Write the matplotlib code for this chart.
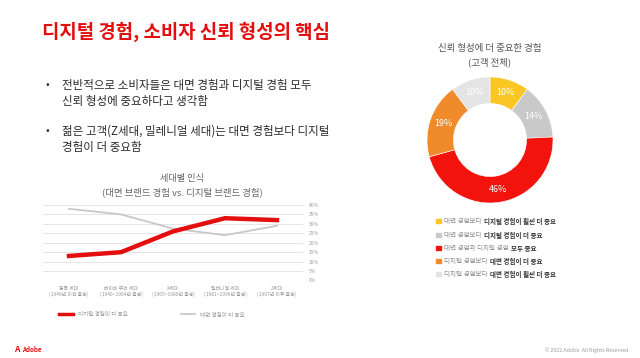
import matplotlib
matplotlib.use("Agg")
import matplotlib.pyplot as plt

plt.rcParams['font.family'] = ['Noto Sans CJK KR', 'DejaVu Sans']

# 세대별 데이터 (%)
generations = ['침묵 세대', '베이비 부머 세대', 'X세대', '밀레니얼 세대', 'Z세대']
birth_years = ['(1946년 이전 출생)', '(1946~1964년 출생)', '(1965~1980년 출생)',
               '(1981~1996년 출생)', '(1997년 이후 출생)']
digital_more = [13, 15, 26, 33, 32]
offline_more = [38, 35, 27.5, 24, 29]
yticks = [0, 5, 10, 15, 20, 25, 30, 35, 40]

# 고객 전체 도넛
pie_labels = ['대면 경험보다 |디지털 경험이 훨씬 더 중요',
              '대면 경험보다 |디지털 경험이 더 중요',
              '대면 경험과 디지털 경험 |모두 중요',
              '디지털 경험보다 |대면 경험이 더 중요',
              '디지털 경험보다 |대면 경험이 훨씬 더 중요']
pie_values = [10, 14, 46, 19, 10]
pie_colors = ['#F9C623', '#C9C9C9', '#F2140C', '#F08B2C', '#E4E4E4']

RED = '#E30E0E'
W, H = 640, 358
fig = plt.figure(figsize=(6.4, 3.58), dpi=100)
fig.patch.set_facecolor('white')

def px(x, y):
    return x / W, 1 - y / H

# 제목
fig.text(*px(42, 32), '디지털 경험, 소비자 신뢰 형성의 핵심', color=RED,
         fontsize=13.6, fontweight='bold', va='center')

# 본문 bullet
body = [(85, '전반적으로 소비자들은 대면 경험과 디지털 경험 모두', True),
        (102, '신뢰 형성에 중요하다고 생각함', False),
        (131, '젊은 고객(Z세대, 밀레니얼 세대)는 대면 경험보다 디지털', True),
        (148, '경험이 더 중요함', False)]
for y, s, bullet in body:
    if bullet:
        fig.text(*px(45, y), '•', fontsize=8, color='#2A2A2A', va='center')
    fig.text(*px(62, y), s, fontsize=8.3, color='#2A2A2A', va='center', fontweight='medium')

# 선 그래프
fig.text(*px(182, 178), '세대별 인식', fontsize=6.6, color='#666666', ha='center', va='center')
fig.text(*px(182, 192), '(대면 브랜드 경험 vs. 디지털 브랜드 경험)', fontsize=6.8,
         color='#666666', ha='center', va='center')

l, b = px(43, 280.5)
r, t = px(303, 205)
ax = fig.add_axes([l, b, r - l, t - b])
x = range(len(generations))
ax.plot(x, offline_more, color='#C8C8C8', lw=1.3, zorder=3)
ax.plot(x, digital_more, color=RED, lw=3.2, zorder=4)
ax.set_xlim(-0.5, 4.5)
ax.set_ylim(0, 40)
ax.set_yticks(yticks)
ax.set_yticklabels([f'{v}%' for v in yticks])
ax.yaxis.tick_right()
ax.grid(axis='y', color='#E6E6E6', lw=0.7)
ax.set_xticks(list(x))
ax.set_xticklabels([f'{g}\n{yr}' for g, yr in zip(generations, birth_years)])
ax.tick_params(length=0, labelsize=3.5, labelcolor='#9A9A9A', pad=4)
for sp in ax.spines.values():
    sp.set_visible(False)
ax.set_axisbelow(True)

# 선 그래프 범례
fig.add_artist(plt.Line2D([59 / W, 73 / W], [1 - 314 / H] * 2, color=RED, lw=2.5))
fig.text(*px(78, 314), '디지털 경험이 더 중요', fontsize=4, color='#9A9A9A', va='center')
fig.add_artist(plt.Line2D([181 / W, 195 / W], [1 - 314 / H] * 2, color='#C8C8C8', lw=1.3))
fig.text(*px(200, 314), '대면 경험이 더 중요', fontsize=4, color='#9A9A9A', va='center')

# 도넛
fig.text(*px(490, 48), '신뢰 형성에 더 중요한 경험', fontsize=6.8, color='#555555', ha='center', va='center')
fig.text(*px(490, 62), '(고객 전체)', fontsize=6.8, color='#555555', ha='center', va='center')
cx, cy, rad = 490, 140, 63
l, b = px(cx - rad, cy + rad)
ax2 = fig.add_axes([l, b, 2 * rad / W, 2 * rad / H])
wedges, texts = ax2.pie(pie_values, colors=pie_colors, startangle=90, counterclock=False,
                        radius=1, wedgeprops=dict(width=0.42, edgecolor='white', linewidth=0.4),
                        labels=[f'{v}%' for v in pie_values], labeldistance=0.79,
                        textprops=dict(color='white', fontsize=6.5, ha='center', va='center'))
ax2.set_xlim(-1, 1)
ax2.set_ylim(-1, 1)
ax2.axis('off')

# 도넛 범례 (일반 + 굵게)
renderer = fig.canvas.get_renderer()
ys = [221, 235, 248, 261, 274]
for y, lab, c in zip(ys, pie_labels, pie_colors):
    fig.patches.append(plt.Rectangle((436 / W, 1 - (y + 2.3) / H), 4.5 / W, 4.5 / H,
                                     color=c, transform=fig.transFigure, figure=fig))
    normal, bold = lab.split('|')
    t1 = fig.text(*px(444, y), normal, fontsize=4.7, color='#8A8A8A', va='center')
    bb = t1.get_window_extent(renderer)
    fig.text(bb.x1 / W + 1 / W, 1 - y / H, bold, fontsize=4.7, color='#333333',
             fontweight='bold', va='center')

# 하단
fig.text(*px(14, 350), 'A', fontsize=6, color=RED, fontweight='bold', va='center')
fig.text(*px(22, 350), 'Adobe', fontsize=4.5, color=RED, fontweight='bold', va='center')
fig.text(*px(630, 350), '© 2022 Adobe. All Rights Reserved.', fontsize=3.8,
         color='#999999', ha='right', va='center')

fig.savefig('out.png', dpi=100)
